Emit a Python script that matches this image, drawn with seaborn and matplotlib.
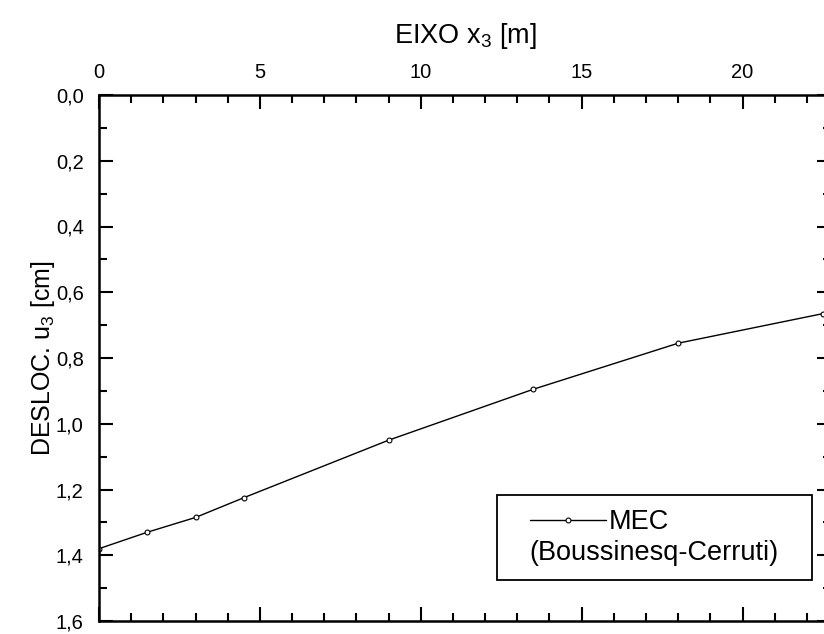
import matplotlib
matplotlib.use("Agg")
import matplotlib.pyplot as plt
import seaborn as sns
import pandas as pd
from matplotlib.ticker import MultipleLocator, FixedLocator, FixedFormatter
from matplotlib.offsetbox import HPacker, DrawingArea

# Vertical displacement u3 along axis x3 (MEC, Boussinesq-Cerruti solution)
x3_m = [0.0, 1.5, 3.0, 4.5, 9.0, 13.5, 18.0, 22.5]
u3_cm = [1.38, 1.33, 1.285, 1.225, 1.05, 0.895, 0.755, 0.665]

x_ticks = [0, 5, 10, 15, 20]
y_ticks = [0.0, 0.2, 0.4, 0.6, 0.8, 1.0, 1.2, 1.4, 1.6]
y_tick_labels = ["0,0", "0,2", "0,4", "0,6", "0,8", "1,0", "1,2", "1,4", "1,6"]

series_label = "MEC"
series_note = "(Boussinesq-Cerruti)"

sns.set_theme(style="ticks")
plt.rcParams["font.family"] = ["Liberation Sans", "DejaVu Sans"]
plt.rcParams["mathtext.fontset"] = "custom"
plt.rcParams["mathtext.rm"] = "Liberation Sans"
plt.rcParams["text.color"] = "black"

W, H = 824, 634
fig = plt.figure(figsize=(W / 100, H / 100), dpi=100)
left_px, right_px, top_px, bottom_px = 99, 831, 95, 621
ax = fig.add_axes([left_px / W, (H - bottom_px) / H,
                   (right_px - left_px) / W, (bottom_px - top_px) / H])

df = pd.DataFrame({"x3": x3_m, "u3": u3_cm})
sns.lineplot(data=df, x="x3", y="u3", ax=ax, color="black", linewidth=1.0,
             marker="o", markersize=3.5, markerfacecolor="white",
             markeredgecolor="black", markeredgewidth=0.8, label=series_label)

ax.set_xlim(0, 22.75)
ax.set_ylim(1.6, 0.0)

ax.xaxis.tick_top()
ax.xaxis.set_label_position("top")
ax.xaxis.set_major_locator(FixedLocator(x_ticks))
ax.xaxis.set_minor_locator(MultipleLocator(1))
ax.yaxis.set_major_locator(FixedLocator(y_ticks))
ax.yaxis.set_major_formatter(FixedFormatter(y_tick_labels))
ax.yaxis.set_minor_locator(MultipleLocator(0.1))

ax.tick_params(which="both", direction="in", top=True, bottom=True,
               left=True, right=True, labeltop=True, labelbottom=False,
               color="black", labelcolor="black", width=1.5)
ax.tick_params(which="major", length=10, labelsize=14.5)
ax.tick_params(which="minor", length=6)
ax.tick_params(axis="y", which="major", pad=11)
ax.tick_params(axis="x", which="major", pad=9)

for side in ["left", "top", "bottom", "right"]:
    ax.spines[side].set_visible(True)
    ax.spines[side].set_color("black")
    ax.spines[side].set_linewidth(1.8)

ax.set_xlabel(r"EIXO x$\mathregular{_3}$ [m]", fontsize=19.5, labelpad=15, color="black")
ax.set_ylabel(r"DESLOC. u$\mathregular{_3}$ [cm]", fontsize=18, labelpad=-1, color="black")

handles, _ = ax.get_legend_handles_labels()
leg = ax.legend(handles, [series_label], title=series_note, loc="lower right",
                bbox_to_anchor=(0.986 * 723 / 732, 0.078), borderaxespad=0,
                frameon=True, fancybox=False, shadow=False, edgecolor="black",
                fontsize=19.5, title_fontsize=19.5, handlelength=2.8,
                handletextpad=0.1, alignment="left", borderpad=0.5,
                labelspacing=0.2)
leg.get_frame().set_linewidth(1.3)
leg.get_frame().set_alpha(1)
for t in leg.get_texts() + [leg.get_title()]:
    t.set_color("black")

# series entry on top, note line underneath, with extra side margins
side = 14
row_top = HPacker(pad=0, sep=0, children=[DrawingArea(side, 0), leg._legend_handle_box])
row_bot = HPacker(pad=0, sep=0, children=[DrawingArea(side, 0), leg._legend_title_box,
                                          DrawingArea(side, 0)])
leg._legend_box._children = [row_top, row_bot]

fig.savefig("out.png", dpi=100)
